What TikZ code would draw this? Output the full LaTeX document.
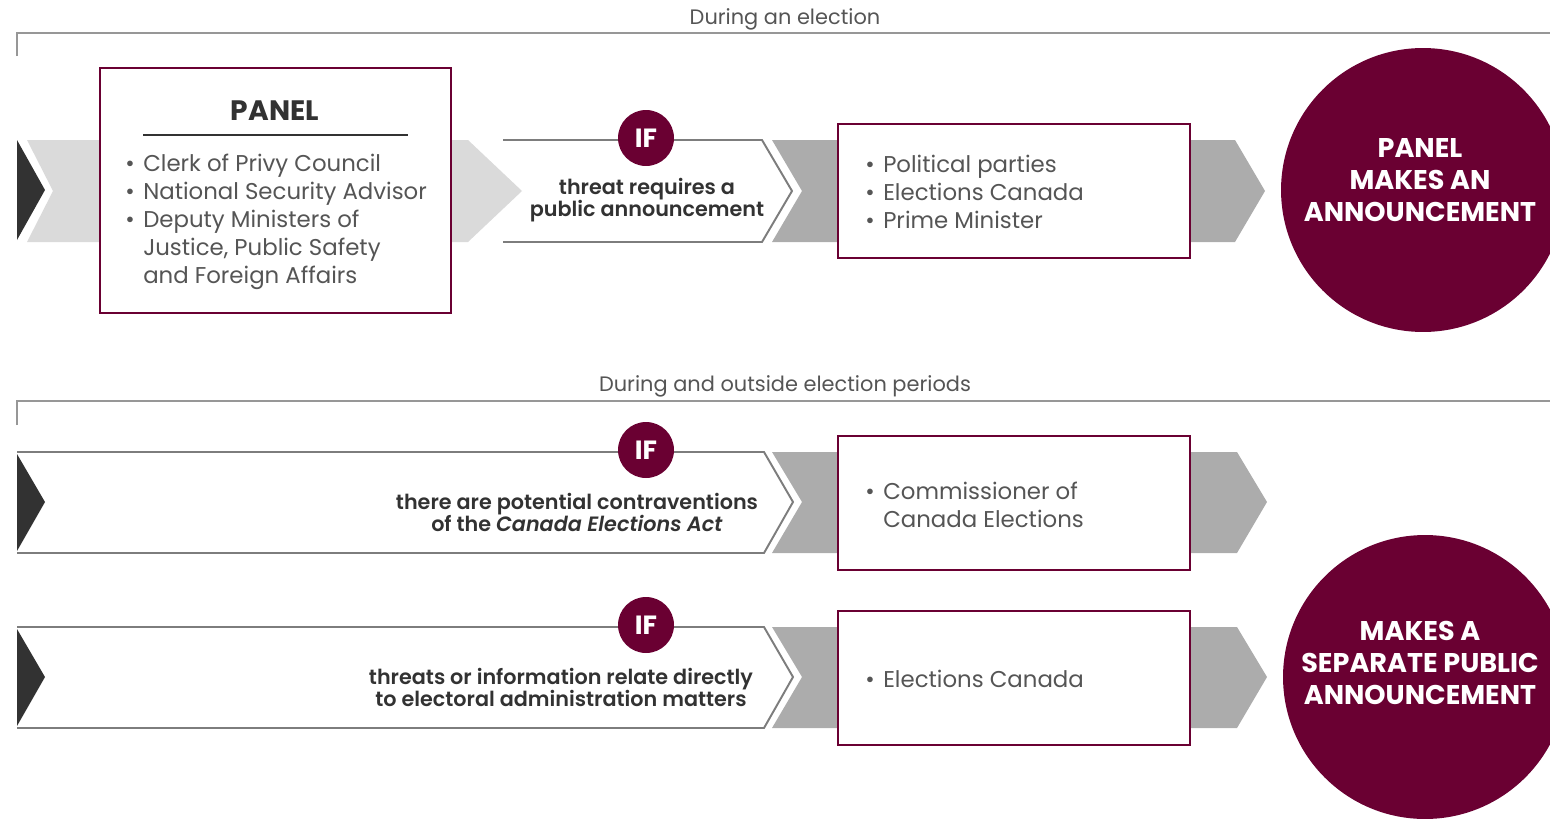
\documentclass[tikz,border=0pt]{standalone}
\usepackage{fontspec}
\setmainfont{Poppins}[BoldFont={* SemiBold}, BoldItalicFont={* SemiBold Italic}]
\newfontfamily\heavyfont{Poppins}[UprightFont={* Bold}]
\usepackage{xcolor}
\usetikzlibrary{positioning, calc}

\definecolor{wine}{RGB}{106,0,50}
\definecolor{textgrey}{RGB}{85,85,85}
\definecolor{darktext}{RGB}{50,50,50}
\definecolor{bandlight}{RGB}{218,218,218}
\definecolor{banddark}{RGB}{172,172,172}
\definecolor{tipblack}{RGB}{50,50,50}
\definecolor{edgegrey}{RGB}{125,125,125}

\newcommand{\bul}{\makebox[10.2pt][l]{\textbullet}}
\newcommand{\nobul}{\hspace*{10.2pt}}

\begin{document}
\begin{tikzpicture}[x=0.02cm, y=-0.02cm,
    headtext/.style={text=textgrey, inner sep=0pt, font=\fontsize{11.9}{13}\selectfont},
    bracket/.style={draw=edgegrey!80, line width=0.8pt},
    chevline/.style={draw=edgegrey, line width=1.1pt, line join=miter},
    listtext/.style={text=textgrey, inner sep=0pt, align=left, font=\fontsize{13}{15.9}\selectfont},
    iftext/.style={text=darktext, inner sep=0pt, align=center, font=\bfseries\fontsize{11.8}{12.5}\selectfont},
    wbox/.style={draw=wine, line width=1.6pt, fill=white, inner sep=0pt, minimum width=7.04cm},
    ifdot/.style={circle, fill=wine, text=white, inner sep=0pt, minimum size=1.12cm, font=\heavyfont\fontsize{15}{15}\selectfont},
    bigdot/.style={circle, fill=wine, inner sep=0pt, minimum size=5.68cm},
    bigtext/.style={text=white, inner sep=0pt, align=center, font=\heavyfont\fontsize{15.4}{18.1}\selectfont}
  ]

  \useasboundingbox (0,0) rectangle (1550,818);

  % ----- During an election -----
  \node[headtext] (head1) at (785,19) {During an election};
  \draw[bracket] (17,56) -- (17,33) -- (1550,33);

  % bands behind the boxes
  \fill[bandlight] (27,140) -- (468,140) -- (522,191) -- (468,242) -- (27,242) -- (53,191) -- cycle;
  \fill[tipblack] (17,140) -- (45,190) -- (17,240) -- cycle;
  \fill[banddark] (772,140) -- (1235,140) -- (1265,191) -- (1235,242) -- (772,242) -- (802,191) -- cycle;
  \draw[chevline] (503,140) -- (762,140) -- (792,191) -- (762,242) -- (503,242);

  % Panel box (base anchor = last line)
  \node[wbox, minimum width=7.02cm, minimum height=4.9cm] (panel) at (275.5,190.5) {};
  \node[text=darktext, inner sep=0pt, font=\heavyfont\fontsize{16}{16}\selectfont] (paneltitle) at (275,111) {PANEL};
  \draw[darktext, line width=0.7pt] (143,135) -- (408,135);
  \node[listtext, anchor=base west] (panellist) at (125,283) {\bul Clerk of Privy Council\\
    \bul National Security Advisor\\
    \bul Deputy Ministers of\\
    \nobul Justice, Public Safety\\
    \nobul and Foreign Affairs};

  % IF step
  \node[ifdot] (if1) at (646,138) {IF};
  \node[iftext] (cond1) at (647,200) {threat requires a\\ public announcement};

  % who is informed
  \node[wbox, minimum height=2.68cm] (inform1) at (1014,191) {};
  \node[listtext, anchor=base west] (informlist1) at (865,228) {\bul Political parties\\
    \bul Elections Canada\\
    \bul Prime Minister};

  % result
  \node[bigdot] (result1) at (1423,190) {};
  \node[bigtext] (resulttext1) at ($(result1)+(-3,-10)$) {PANEL\\ MAKES AN\\ ANNOUNCEMENT};

  % ----- During and outside election periods -----
  \node[headtext] (head2) at (785,386) {During and outside election periods};
  \draw[bracket] (17,425) -- (17,401) -- (1550,401);

  % row for the Commissioner
  \fill[banddark] (772,452) -- (1237,452) -- (1267,502) -- (1237,553) -- (772,553) -- (802,502) -- cycle;
  \draw[chevline] (17,452) -- (764,452) -- (793,502) -- (764,553) -- (17,553);
  \fill[tipblack] (17,454) -- (45,502) -- (17,551) -- cycle;
  \node[ifdot] (if2) at (646,450) {IF};
  \node[iftext] (cond2) at (577,512) {there are potential contraventions\\ of the \textit{Canada Elections Act}};
  \node[wbox, minimum height=2.68cm] (inform2) at (1014,503) {};
  \node[listtext, anchor=base west] (informlist2) at (865,527) {\bul Commissioner of\\
    \nobul Canada Elections};

  % row for Elections Canada
  \fill[banddark] (772,627) -- (1237,627) -- (1267,677) -- (1237,728) -- (772,728) -- (802,677) -- cycle;
  \draw[chevline] (17,627) -- (764,627) -- (793,677) -- (764,728) -- (17,728);
  \fill[tipblack] (17,629) -- (45,677) -- (17,726) -- cycle;
  \node[ifdot] (if3) at (646,625) {IF};
  \node[iftext] (cond3) at (561,687) {threats or information relate directly\\ to electoral administration matters};
  \node[wbox, minimum height=2.68cm] (inform3) at (1014,678) {};
  \node[listtext, anchor=base west] (informlist3) at (865,687) {\bul Elections Canada};

  % result
  \node[bigdot] (result2) at (1425,677) {};
  \node[bigtext] (resulttext2) at ($(result2)+(-5,-14)$) {MAKES A\\ SEPARATE PUBLIC\\ ANNOUNCEMENT};

\end{tikzpicture}
\end{document}
